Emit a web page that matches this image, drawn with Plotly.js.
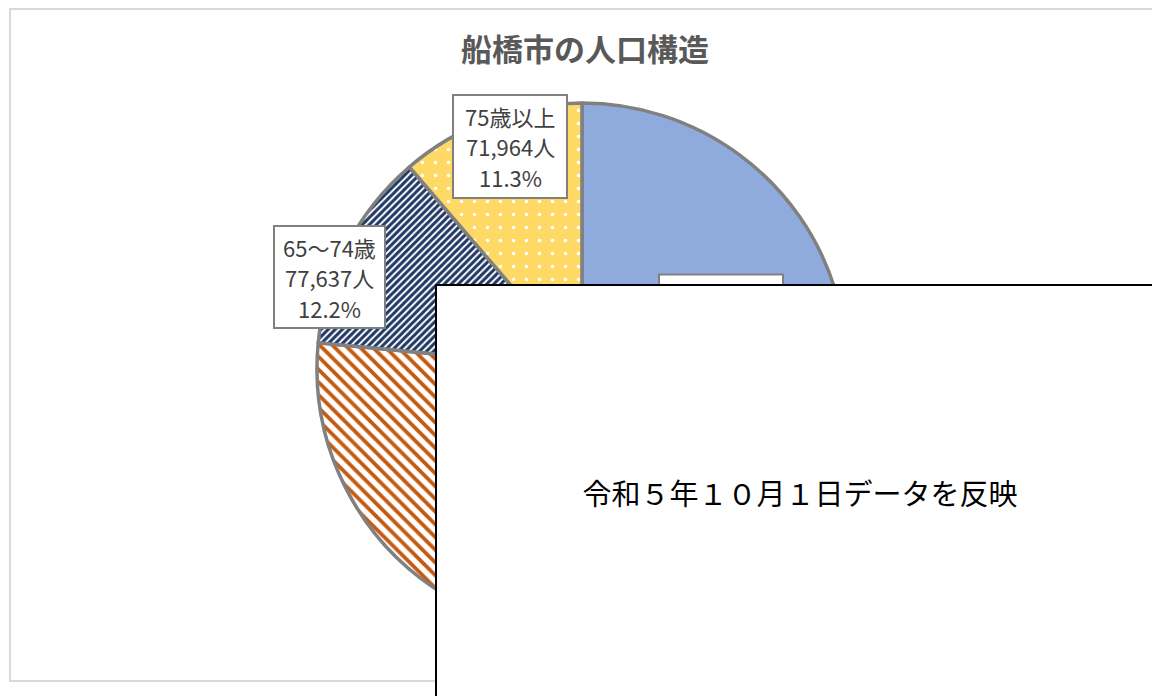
<!DOCTYPE html>
<html>
<head>
<meta charset="utf-8">
<script src="https://cdn.plot.ly/plotly-3.0.1.min.js"></script>
<style>html,body{margin:0;padding:0;background:#fff;}#chart{width:1152px;height:696px;}</style>
</head>
<body>
<div id="chart"></div>
<script>
// Data (the first two slices are mostly hidden and estimated)
const categories = ["0～39歳", "40～64歳", "65～74歳", "75歳以上"];
const populations = [258000, 229400, 77637, 71964];
const sliceColors = ["#8faadc", "#c55a11", "#203864", "#ffd966"];
const chartTitle = "船橋市の人口構造";
const noteText = "令和５年１０月１日データを反映";

const total = populations.reduce((a, b) => a + b, 0);
function fmt(n) { return n.toLocaleString("en-US"); }
function labelLines(i) {
  return [categories[i], fmt(populations[i]) + "人", (populations[i] / total * 100).toFixed(1) + "%"];
}

const W = 1152, H = 696;
const px = v => v / W, py = v => 1 - v / H;

const trace = {
  type: "pie",
  labels: categories,
  values: populations,
  sort: false,
  direction: "clockwise",
  rotation: 0,
  textinfo: "none",
  hoverinfo: "label+value+percent",
  domain: {x: [px(317), px(847)], y: [py(633), py(103)]},
  marker: {
    colors: sliceColors,
    line: {color: "#808080", width: 3.5},
    pattern: {
      shape: ["", "\\", "/", "."],
      fgcolor: ["#8faadc", "#c55a11", "#203864", "#ffffff"],
      bgcolor: ["#8faadc", "#ffffff", "#ffffff", "#ffd966"],
      size: [8, 9, 5, 13],
      solidity: [0.3, 0.42, 0.6, 0.06],
      fillmode: "replace"
    }
  }
};

const labelFont = {family: "Noto Sans CJK JP, sans-serif", size: 22, color: "#404040"};
const shapes = [
  {type: "rect", xref: "paper", yref: "paper", x0: px(10), x1: 1.02, y0: py(681), y1: py(9),
   line: {color: "#d9d9d9", width: 2}, fillcolor: "rgba(0,0,0,0)", layer: "below"}
];
const annotations = [];
// label box: [slice index, box centre x, box centre y, box width, box height]
const labelBoxes = [[0, 721, 326, 124, 103], [3, 510, 146.5, 114, 103], [2, 329.5, 277, 111, 102]];
labelBoxes.forEach(([i, cx, cy, bw, bh]) => {
  shapes.push({type: "rect", xref: "paper", yref: "paper", layer: "above",
    x0: px(cx - bw / 2), x1: px(cx + bw / 2), y0: py(cy + bh / 2), y1: py(cy - bh / 2),
    line: {color: "#808080", width: 2}, fillcolor: "#ffffff"});
  labelLines(i).forEach((t, k) => {
    annotations.push({xref: "paper", yref: "paper", x: px(cx), y: py(cy + (k - 1) * 30.5),
      xanchor: "center", yanchor: "middle", text: t, showarrow: false, font: labelFont});
  });
});
annotations.push({
  xref: "paper", yref: "paper", x: px(435), y: py(284),
  xanchor: "left", yanchor: "top",
  width: 726, height: 412, borderpad: 0,
  text: noteText, showarrow: false, align: "center", valign: "middle",
  font: {family: "Noto Sans CJK JP, sans-serif", size: 29, color: "#000000"},
  bgcolor: "#ffffff", bordercolor: "#000000", borderwidth: 2
});

const layout = {
  width: W, height: H,
  margin: {l: 0, r: 0, t: 0, b: 0},
  paper_bgcolor: "#ffffff",
  showlegend: false,
  title: {
    text: chartTitle, x: px(585), y: py(50), xanchor: "center", yanchor: "middle",
    font: {family: "Noto Sans CJK JP, sans-serif", size: 31, color: "#595959", weight: "bold"}
  },
  shapes: shapes,
  annotations: annotations
};

Plotly.newPlot("chart", [trace], layout, {displayModeBar: false, responsive: false});
</script>
</body>
</html>
